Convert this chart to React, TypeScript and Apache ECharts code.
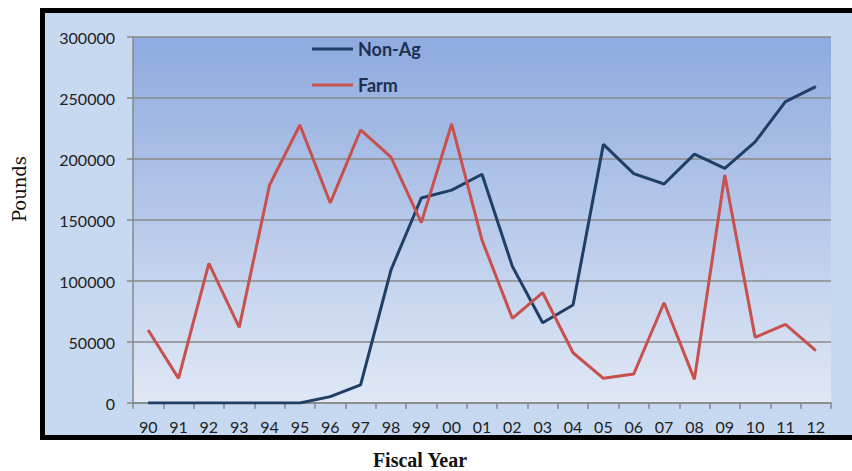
import React, { useEffect, useRef } from "react";
import * as echarts from "echarts";

const years = ["90","91","92","93","94","95","96","97","98","99","00","01","02","03","04","05","06","07","08","09","10","11","12"];
const nonAg = [0,0,0,0,0,0,5200,14800,109000,168000,174500,187500,112000,65800,80300,212000,188000,179500,204000,192400,214000,247000,259300];
const farm = [59800,20200,114500,62000,178700,227900,164000,223800,201600,147800,228700,133600,69400,90400,41200,20200,23800,82200,19400,186900,53800,64500,42900];
const yTicks = { min: 0, max: 300000, interval: 50000 };
const xTitle = "Fiscal Year";
const yTitle = "Pounds";

export default function App() {
  const ref = useRef<HTMLDivElement>(null);
  useEffect(() => {
    if (!ref.current) return;
    const chart = echarts.init(ref.current, null, { renderer: "svg" });
    chart.setOption({
      animation: false,
      graphic: [
        {
          type: "rect",
          z: -10,
          shape: { x: 42.5, y: 10.5, width: 830, height: 427 },
          style: { fill: "#c6d9f1", stroke: "#000", lineWidth: 5 },
        },
        {
          type: "text",
          x: 420,
          y: 460,
          style: {
            text: xTitle,
            fontFamily: "Liberation Serif",
            fontSize: 20,
            fontWeight: "bold",
            fill: "#111",
            align: "center",
            verticalAlign: "middle",
          },
        },
        {
          type: "text",
          x: 19,
          y: 189,
          rotation: Math.PI / 2,
          style: {
            text: yTitle,
            fontFamily: "DejaVu Serif",
            fontSize: 18,
            fill: "#111",
            align: "center",
            verticalAlign: "middle",
          },
        },
      ],
      grid: {
        left: 133,
        right: 21,
        top: 37,
        bottom: 68,
        outerBoundsMode: "none",
        containLabel: false,
        show: true,
        borderWidth: 0,
        backgroundColor: new echarts.graphic.LinearGradient(0, 0, 0, 1, [
          { offset: 0, color: "#8eaadf" },
          { offset: 1, color: "#e0e8f5" },
        ]),
      },
      legend: {
        orient: "vertical",
        left: 307,
        top: 35,
        icon: "rect",
        itemWidth: 41,
        itemHeight: 3,
        itemGap: 18,
        data: ["Non-Ag", "Farm"],
        textStyle: { fontFamily: "Lato", fontSize: 18, fontWeight: "bold", color: "#1f2f50" },
      },
      xAxis: {
        type: "category",
        data: years,
        boundaryGap: true,
        axisLine: { lineStyle: { color: "#888", width: 1.5 } },
        axisTick: { show: true, length: 6, lineStyle: { color: "#888", width: 1.5 } },
        axisLabel: { fontFamily: "Lato", fontSize: 16, color: "#222", margin: 15 },
      },
      yAxis: {
        type: "value",
        min: yTicks.min,
        max: yTicks.max,
        interval: yTicks.interval,
        axisLine: { show: true, lineStyle: { color: "#888", width: 1.5 } },
        axisTick: { show: true, length: 6, lineStyle: { color: "#888", width: 1.5 } },
        axisLabel: { fontFamily: "Lato", fontSize: 16, color: "#222", margin: 18, formatter: (v: number) => String(v) },
        splitLine: { lineStyle: { color: "#8a8a8a", width: 1.5 } },
      },
      series: [
        {
          name: "Non-Ag",
          type: "line",
          data: nonAg,
          symbol: "none",
          lineStyle: { color: "#1f3f66", width: 3 },
          itemStyle: { color: "#1f3f66" },
        },
        {
          name: "Farm",
          type: "line",
          data: farm,
          symbol: "none",
          lineStyle: { color: "#c8504d", width: 3 },
          itemStyle: { color: "#c8504d" },
        },
      ],
    });
    return () => chart.dispose();
  }, []);
  return (
    <div
      ref={ref}
      style={{ position: "fixed", left: 0, top: 0, width: 852, height: 471, background: "#fff" }}
    />
  );
}
